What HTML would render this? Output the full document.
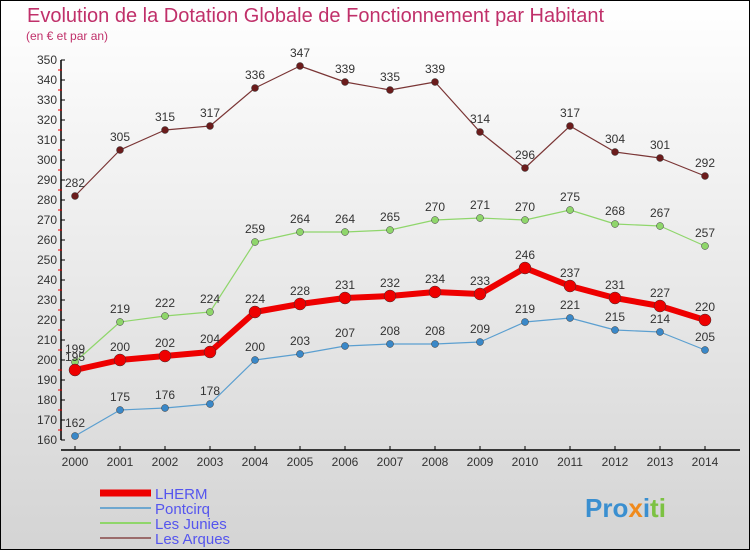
<!DOCTYPE html>
<html><head><meta charset="utf-8"><style>
body{margin:0;background:#fff}
svg{display:block;font-family:"Liberation Sans",sans-serif}
</style></head><body>
<svg id="c" width="750" height="550" viewBox="0 0 750 550">
<defs><linearGradient id="bg" x1="0" y1="0" x2="0" y2="1"><stop offset="0" stop-color="#ffffff"/><stop offset="1" stop-color="#d4d4d4"/></linearGradient></defs>
<rect x="0.5" y="0.5" width="749" height="549" fill="url(#bg)" stroke="#000"/>
<text x="27" y="22" font-size="20" fill="#c0306a">Evolution de la Dotation Globale de Fonctionnement par Habitant</text>
<text x="26" y="40" font-size="12" fill="#c0306a">(en € et par an)</text>
<g id="axes"></g><g id="series"></g>
<g id="legend"></g>
<text x="585" y="517" font-size="26" font-weight="bold"><tspan fill="#3a8fd0">Pro</tspan><tspan fill="#f08a1c">x</tspan><tspan fill="#3a8fd0">i</tspan><tspan fill="#7cc242">ti</tspan></text>
</svg>
<script>
const years=[2000,2001,2002,2003,2004,2005,2006,2007,2008,2009,2010,2011,2012,2013,2014];
const lherm=[195,200,202,204,224,228,231,232,234,233,246,237,231,227,220];
const pontcirq=[162,175,176,178,200,203,207,208,208,209,219,221,215,214,205];
const junies=[199,219,222,224,259,264,264,265,270,271,270,275,268,267,257];
const arques=[282,305,315,317,336,347,339,335,339,314,296,317,304,301,292];
const yTicks=[160,170,180,190,200,210,220,230,240,250,260,270,280,290,300,310,320,330,340,350];
const NS="http://www.w3.org/2000/svg";
const X=i=>75+i*45, Y=v=>440-(v-160)*2;
function mk(p,t,a){const e=document.createElementNS(NS,t);for(const k in a)e.setAttribute(k,a[k]);p.appendChild(e);return e;}
const ax=document.getElementById('axes');
let l=mk(ax,'line',{x1:61,y1:Y(350),x2:61,y2:Y(160),stroke:'#000','stroke-width':1.5});


l=mk(ax,'line',{x1:61,y1:450,x2:740,y2:450,stroke:'#000','stroke-width':1.5});


yTicks.forEach(v=>{
 mk(ax,'line',{x1:61,y1:Y(v),x2:65,y2:Y(v),stroke:'#000'});
 mk(ax,'line',{x1:58,y1:Y(v)+10,x2:62,y2:Y(v)+10,stroke:v>160?'#e00':'none'});
 const t=mk(ax,'text',{x:57,y:Y(v)+4,'text-anchor':'end','font-size':12,fill:'#333'});
 t.textContent=v;
 
 
});
years.forEach((yr,i)=>{
 mk(ax,'line',{x1:X(i),y1:446,x2:X(i),y2:450,stroke:'#000'});
 const t=mk(ax,'text',{x:X(i),y:466,'text-anchor':'middle','font-size':12,fill:'#333'});
 t.textContent=yr;
 
 
});
const sg=document.getElementById('series');
function draw(vals,color,w,r,name,fill){
 const g=mk(sg,'g',{});
 
 
 const p=mk(g,'polyline',{points:vals.map((v,i)=>X(i)+','+Y(v)).join(' '),fill:'none',stroke:color,'stroke-width':w,'stroke-linejoin':'round'});
 
 
 vals.forEach((v,i)=>{
  const c=mk(g,'circle',{cx:X(i),cy:Y(v),r:r,fill:fill,stroke:'#333','stroke-width':0.5});
  
  
  const t=mk(g,'text',{x:X(i),y:Y(v)-9,'text-anchor':'middle','font-size':12,fill:'#333'});
  t.textContent=v;
  
  
 });
}
draw(arques,'#7a3535',1.2,3.5,'les-arques','#6b1c1c');
draw(junies,'#8fd66b',1.2,3.5,'les-junies','#8fd66b');
draw(pontcirq,'#5b9fd0',1.2,3.5,'pontcirq','#3a88c8');
draw(lherm,'#ee0000',6,6,'lherm','#ee0000');
const lg=document.getElementById('legend');
[['LHERM','#ee0000',7],['Pontcirq','#6ea7cf',2],['Les Junies','#8fd66b',2],['Les Arques','#9a6b6b',2]].forEach((d,i)=>{
 const y=493+i*15;
 const g=mk(lg,'g',{});
 
 
 mk(g,'line',{x1:100,y1:y,x2:151,y2:y,stroke:d[1],'stroke-width':d[2]});
 const t=mk(g,'text',{x:155,y:y+6,'font-size':15,fill:'#5555ee'});
 t.textContent=d[0];
});
</script>
</body></html>
